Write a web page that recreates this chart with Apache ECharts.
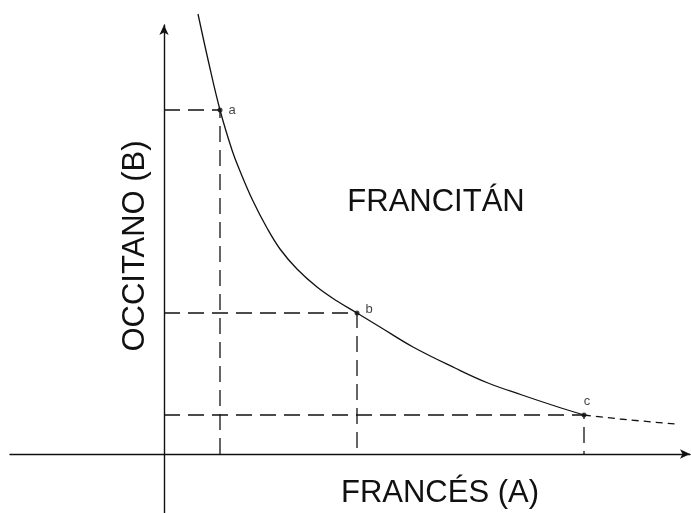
<!DOCTYPE html>
<html>
<head>
<meta charset="utf-8">
<script src="https://cdn.jsdelivr.net/npm/echarts@6/dist/echarts.min.js"></script>
<style>
html,body{margin:0;padding:0;background:#fff;}
#chart{width:691px;height:513px;}
</style>
</head>
<body>
<div id="chart"></div>
<script>
// Curve (solid part), in axis units
const curveX = [0.68, 0.90, 1.12, 1.36, 1.52, 1.78, 2.06, 2.32, 2.66, 3.06, 3.46, 3.86, 4.32, 4.98, 5.82, 6.48, 7.16, 7.82, 8.40];
const curveY = [8.80, 7.80, 6.88, 6.08, 5.66, 5.06, 4.52, 4.10, 3.70, 3.34, 3.06, 2.82, 2.54, 2.14, 1.72, 1.42, 1.18, 0.96, 0.78];
// Dashed continuation of the curve after point c
const tailX = [8.40, 9.12, 10.22];
const tailY = [0.78, 0.70, 0.60];
// Marked points
const pointNames = ['a', 'b', 'c'];
const pointX = [1.12, 3.86, 8.40];
const pointY = [6.88, 2.82, 0.78];
// Texts
const xTitle = 'FRANCÉS (A)';
const yTitle = 'OCCITANO (B)';
const areaLabel = 'FRANCITÁN';

const INK = '#111';
const FONT = '"Liberation Sans", Arial, Helvetica, sans-serif';

const chart = echarts.init(document.getElementById('chart'), null, {renderer: 'canvas'});

const guideSeries = pointNames.map((n, i) => ({
  type: 'line',
  name: 'guide-' + n,
  data: [[0, pointY[i]], [pointX[i], pointY[i]], [pointX[i], 0]],
  showSymbol: false,
  symbol: 'none',
  silent: true,
  lineStyle: {color: INK, width: 1.3, type: [16, 8]},
  z: 2
}));

const labelPos = {
  a: {position: 'right', offset: [1, 0]},
  b: {position: 'right', offset: [1, -4]},
  c: {position: 'top', offset: [3, 0]}
};

const option = {
  animation: false,
  backgroundColor: '#fff',
  grid: {left: 10, right: 1, top: 25, bottom: 0, containLabel: false},
  xAxis: {
    type: 'value', min: -3.08, max: 10.52,
    axisLine: {show: true, onZero: true, symbol: ['none', 'arrow'], symbolSize: [7, 10], lineStyle: {color: INK, width: 1.4}},
    axisTick: {show: false}, axisLabel: {show: false}, splitLine: {show: false}
  },
  yAxis: {
    type: 'value', min: -1.18, max: 8.58,
    axisLine: {show: true, onZero: true, symbol: ['none', 'arrow'], symbolSize: [7, 10], lineStyle: {color: INK, width: 1.4}},
    axisTick: {show: false}, axisLabel: {show: false}, splitLine: {show: false}
  },
  series: [
    {
      type: 'line', name: 'curve',
      data: curveX.map((x, i) => [x, curveY[i]]),
      smooth: 0.4, showSymbol: false, symbol: 'none', clip: false,
      lineStyle: {color: INK, width: 1.3}, z: 3
    },
    {
      type: 'line', name: 'tail',
      data: tailX.map((x, i) => [x, tailY[i]]),
      smooth: 0.3, showSymbol: false, symbol: 'none', clip: false,
      lineStyle: {color: INK, width: 1.3, type: [7, 5]}, z: 3
    },
    ...guideSeries,
    {
      type: 'scatter', name: 'points',
      data: pointNames.map((n, i) => ({
        value: [pointX[i], pointY[i]],
        name: n,
        label: Object.assign({show: true, formatter: n}, labelPos[n])
      })),
      symbolSize: 5,
      itemStyle: {color: INK},
      label: {color: INK, fontSize: 13, fontFamily: FONT},
      z: 5
    }
  ],
  graphic: [
    {
      type: 'text', x: 436, y: 202,
      style: {text: areaLabel, font: '31px ' + FONT, fill: INK, textAlign: 'center', textVerticalAlign: 'middle'}
    },
    {
      type: 'text', x: 440, y: 493,
      style: {text: xTitle, font: '31px ' + FONT, fill: INK, textAlign: 'center', textVerticalAlign: 'middle'}
    },
    {
      type: 'text', x: 135, y: 246, rotation: Math.PI / 2,
      style: {text: yTitle, font: '31px ' + FONT, fill: INK, textAlign: 'center', textVerticalAlign: 'middle'}
    }
  ]
};
chart.setOption(option);
</script>
</body>
</html>
